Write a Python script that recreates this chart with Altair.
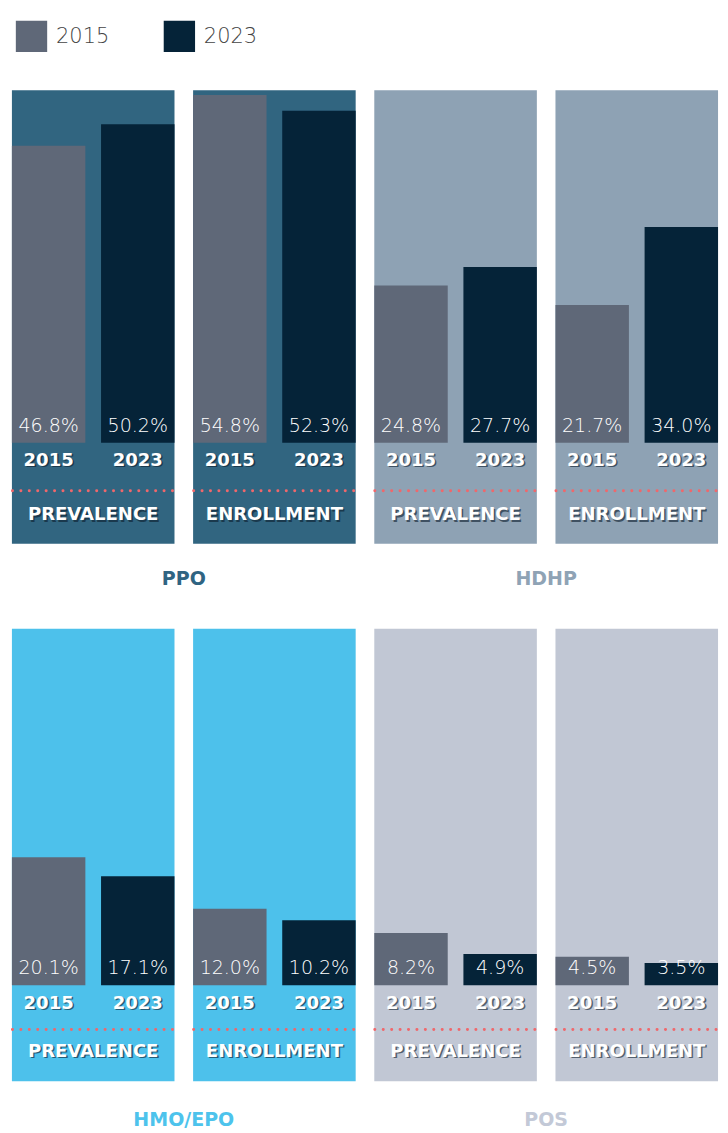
import altair as alt
import pandas as pd

years = ["2015", "2023"]
metrics = ["PREVALENCE", "ENROLLMENT"]
plans = ["PPO", "HDHP", "HMO/EPO", "POS"]

# values per plan: [prevalence, enrollment]
ppo_2015 = [46.8, 54.8]
ppo_2023 = [50.2, 52.3]
hdhp_2015 = [24.8, 21.7]
hdhp_2023 = [27.7, 34.0]
hmo_2015 = [20.1, 12.0]
hmo_2023 = [17.1, 10.2]
pos_2015 = [8.2, 4.5]
pos_2023 = [4.9, 3.5]

plan_values = {
    "PPO": (ppo_2015, ppo_2023),
    "HDHP": (hdhp_2015, hdhp_2023),
    "HMO/EPO": (hmo_2015, hmo_2023),
    "POS": (pos_2015, pos_2023),
}

bg_colors = {"PPO": "#316580", "HDHP": "#8EA2B4", "HMO/EPO": "#4DC1EB", "POS": "#C1C7D4"}
title_colors = {"PPO": "#2F6482", "HDHP": "#8FA3B5", "HMO/EPO": "#4DC3EC", "POS": "#C3C9D7"}
bar_colors = ["#5F6878", "#052338"]

rows_ = []
for plan in plans:
    v15, v23 = plan_values[plan]
    for i, m in enumerate(metrics):
        rows_.append({"plan": plan, "metric": m, "year": "2015", "value": v15[i]})
        rows_.append({"plan": plan, "metric": m, "year": "2023", "value": v23[i]})
df = pd.DataFrame(rows_)
df["label"] = df["value"].map(lambda v: f"{v:.1f}%")

FONT = "DejaVu Sans"
W = 166

row_params = [
    {"H": 463, "top": 360, "bottom": 103, "ppu": 6.48, "yr": 17.3, "dot": 49, "cat": 73, "toff": 27},
    {"H": 462, "top": 364, "bottom": 98, "ppu": 6.51, "yr": 17.9, "dot": 45, "cat": 66.8, "toff": 30.5},
]

color_scale = alt.Scale(domain=years, range=bar_colors)

# custom legend (squares + labels) built from the years list
leg_df = pd.DataFrame({"year": years})
leg_x = alt.X("year:N", scale=alt.Scale(type="point", domain=years, range=[20, 171], padding=0), axis=None)
leg_sq = alt.Chart(leg_df).mark_square(size=1024, opacity=1, strokeWidth=0).encode(
    x=leg_x, y=alt.value(16), color=alt.Color("year:N", scale=color_scale, legend=None)
)
leg_txt = alt.Chart(leg_df).mark_text(
    align="left", baseline="middle", dx=25, dy=1, font=FONT, fontSize=21.4, fontWeight=300, color="#444444"
).encode(x=leg_x, y=alt.value(16), text="year:N")
legend_chart = alt.layer(leg_sq, leg_txt).properties(width=300, height=32)


def panel(plan, metric, rp):
    d = df[(df.plan == plan) & (df.metric == metric)]
    base = alt.Chart(d)
    x = alt.X("year:N", scale=alt.Scale(domain=years, paddingInner=0.176, paddingOuter=0), axis=None)
    ysc = alt.Scale(domain=[-rp["bottom"] / rp["ppu"], rp["top"] / rp["ppu"]], nice=False, zero=False)
    y0 = alt.Y(datum=0, axis=None)
    bars = base.mark_bar().encode(
        x=x,
        y=alt.Y("value:Q", scale=ysc, axis=None),
        y2=alt.datum(0),
        color=alt.Color("year:N", scale=color_scale, legend=None),
    )
    vals = base.mark_text(font=FONT, fontSize=19.4, fontWeight=300, color="white", dy=-17.3).encode(
        x=x, y=y0, text="label:N"
    )
    yr_shadow = base.mark_text(font=FONT, fontSize=18.4, fontWeight="bold", color="#0c1c2c", opacity=0.6,
                               dy=rp["yr"] + 1.6, dx=1.6).encode(x=x, y=y0, text="year:N")
    yr = base.mark_text(font=FONT, fontSize=18.4, fontWeight="bold", color="white", dy=rp["yr"]).encode(
        x=x, y=y0, text="year:N"
    )
    one = alt.Chart(pd.DataFrame({"metric": [metric]}))
    dots = one.mark_rule(color="#F0676B", strokeWidth=3, strokeCap="round", strokeDash=[0.1, 8.5],
                         strokeDashOffset=-2).encode(y=alt.Y(datum=-rp["dot"] / rp["ppu"], axis=None))
    cat_shadow = one.mark_text(font=FONT, fontSize=18.4, fontWeight="bold", color="#0c1c2c", opacity=0.6,
                               dy=rp["cat"] + 1.6, dx=1.6).encode(
        x=alt.value(W / 2), y=y0, text="metric:N")
    cat = one.mark_text(font=FONT, fontSize=18.4, fontWeight="bold", color="white", dy=rp["cat"]).encode(
        x=alt.value(W / 2), y=y0, text="metric:N")
    return alt.layer(bars, vals, yr_shadow, yr, dots, cat_shadow, cat).properties(
        width=W, height=rp["H"], view=alt.ViewBackground(fill=bg_colors[plan], strokeWidth=0)
    )


def group(plan, rp):
    return alt.hconcat(
        panel(plan, metrics[0], rp), panel(plan, metrics[1], rp), spacing=15
    ).properties(
        title=alt.TitleParams(text=plan, orient="bottom", anchor="middle", color=title_colors[plan],
                              fontSize=19.4, font=FONT, fontWeight="bold", offset=rp["toff"])
    )


row1 = alt.hconcat(group("PPO", row_params[0]), group("HDHP", row_params[0]), spacing=15)
row2 = alt.hconcat(group("HMO/EPO", row_params[1]), group("POS", row_params[1]), spacing=15)

chart = alt.vconcat(
    alt.vconcat(legend_chart, row1, spacing=38), row2, spacing=41
).properties(
    padding={"left": 2, "top": 0, "right": 0, "bottom": 0}
).configure_view(stroke="transparent")

chart.save("out.html", embed_options={"renderer": "svg", "actions": False})
